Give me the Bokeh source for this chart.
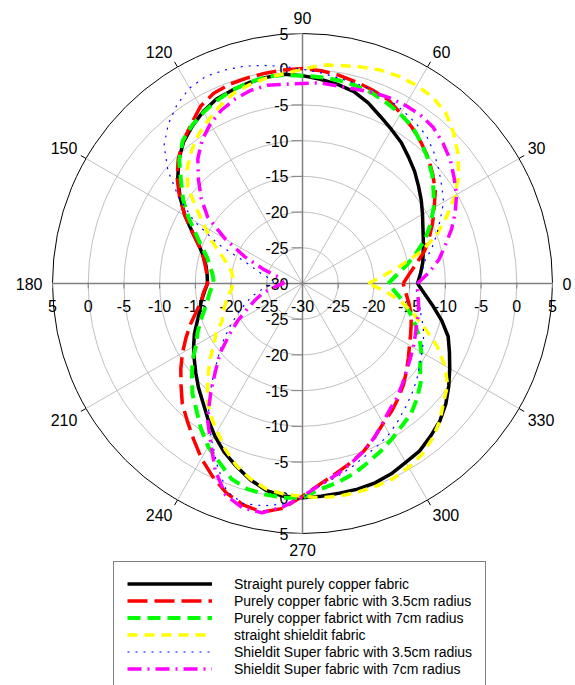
import math
from bokeh.plotting import figure
from bokeh.models import Range1d, Legend, LegendItem, ColumnDataSource
from bokeh.embed import file_html
from bokeh.resources import INLINE
from bokeh.core.properties import value

# ---------------- data (dB vs angle in degrees) ----------------
angles = list(range(0, 360, 5))

straight_copper = [-13.9, -13.4, -12.9, -12.5, -12.0, -11.4, -10.6, -9.7, -8.8, -7.8,
                   -6.9, -5.9, -5.1, -4.2, -3.1, -2.2, -1.7, -1.3, -0.9, -0.6,
                   -0.7, -0.9, -1.2, -1.5, -2.2, -3.1, -4.1, -5.5, -7.2, -9.1,
                   -11.0, -13.0, -14.6, -15.7, -16.3, -16.6, -16.7, -16.2, -15.6, -15.1,
                   -14.3, -13.3, -12.4, -11.5, -10.5, -9.4, -8.3, -6.9, -5.4, -4.0,
                   -2.8, -1.6, -0.6, -0.1, 0.0, -0.1, -0.2, -0.2, -0.3, -0.6,
                   -1.1, -1.4, -2.1, -2.8, -3.8, -5.0, -6.2, -7.3, -8.3, -9.8,
                   -11.4, -12.8]

copper_35 = [-15.9, -15.0, -13.8, -12.3, -11.1, -9.9, -8.7, -7.3, -6.2, -5.1,
             -4.2, -3.3, -2.5, -1.6, -1.2, -0.8, -0.4, -0.1, 0.1, 0.0,
             -0.1, -0.2, -0.3, -0.6, -1.4, -2.8, -4.0, -5.4, -7.1, -9.0,
             -11.0, -13.0, -14.6, -15.6, -16.2, -16.6, -16.7, -16.1, -15.6, -14.6,
             -13.3, -12.0, -10.6, -9.2, -7.8, -6.2, -4.9, -3.4, -1.7, -0.2,
             1.2, 2.1, 2.5, 1.6, -0.2, -1.8, -3.0, -4.0, -5.0, -6.2,
             -7.4, -8.2, -9.1, -10.0, -11.0, -11.9, -12.7, -13.3, -13.8, -14.3,
             -14.9, -15.5]

copper_7 = [-18.0, -16.8, -15.2, -13.5, -11.7, -10.2, -8.8, -7.6, -6.3, -5.2,
            -4.2, -3.2, -2.6, -2.1, -1.6, -1.3, -1.1, -1.0, -0.9, -0.7,
            -0.6, -0.9, -1.2, -1.7, -2.3, -3.0, -3.9, -5.6, -7.8, -9.6,
            -11.6, -13.5, -15.0, -16.2, -16.9, -17.4, -17.6, -17.0, -16.5, -15.8,
            -14.8, -13.8, -12.8, -11.2, -9.8, -8.2, -6.9, -5.2, -3.6, -2.4,
            -0.9, -0.2, 0.0, 0.1, 0.0, -1.1, -1.7, -2.4, -3.3, -4.1,
            -4.9, -5.7, -6.3, -7.3, -8.4, -9.9, -10.8, -11.9, -13.2, -14.5,
            -15.7, -17.0]

straight_shieldit = [-20.8, -18.8, -16.2, -12.8, -10.0, -7.7, -5.3, -3.3, -1.6, -0.1,
                     1.2, 1.8, 2.0, 2.0, 1.8, 1.4, 1.0, 0.7, 0.0, -0.5,
                     -0.8, -1.2, -1.7, -2.6, -3.6, -4.6, -5.8, -7.2, -9.0, -12.0,
                     -14.2, -16.0, -17.8, -19.0, -19.9, -20.2, -20.3, -20.0, -19.4, -18.8,
                     -18.1, -17.6, -16.0, -14.8, -13.0, -11.3, -9.2, -7.5, -6.1, -4.4,
                     -2.9, -1.7, -0.8, -0.4, -0.2, 0.1, 0.2, 0.2, 0.2, 0.1,
                     -0.3, -0.8, -1.7, -2.8, -4.2, -5.2, -7.0, -9.2, -11.8, -14.0,
                     -16.1, -18.5]

shieldit_35 = [-14.0, -13.2, -12.7, -11.3, -10.0, -8.7, -7.2, -6.2, -5.1, -4.0,
               -3.0, -2.5, -2.0, -1.5, -1.2, -1.0, -0.8, -0.4, 0.0, 0.5,
               1.0, 1.5, 1.8, 2.0, 1.6, 0.6, -0.8, -2.6, -5.4, -8.8,
               -12.4, -17.0, -21.8, -23.6, -25.0, -25.8, -26.0, -25.0, -23.8, -22.5,
               -21.4, -20.0, -18.4, -16.6, -14.8, -12.5, -9.8, -7.0, -4.6, -1.8,
               1.0, 1.9, 1.6, 1.0, 0.0, -1.6, -2.5, -3.4, -4.3, -5.0,
               -5.7, -6.6, -7.5, -8.3, -9.1, -10.0, -10.7, -11.3, -12.0, -12.8,
               -13.5, -14.0]

shieldit_7 = [-13.9, -12.2, -10.6, -9.3, -7.8, -6.4, -5.1, -4.1, -3.0, -2.2,
              -1.5, -1.2, -1.2, -1.3, -1.5, -1.8, -1.9, -1.8, -2.0, -2.0,
              -1.8, -2.0, -2.5, -3.2, -4.2, -5.5, -7.2, -9.4, -11.5, -13.8,
              -17.5, -21.0, -24.2, -26.5, -27.0, -27.2, -27.3, -26.5, -25.3, -24.0,
              -22.8, -21.4, -19.5, -17.5, -15.0, -12.8, -10.0, -6.8, -4.3, -1.1,
              1.5, 2.5, 2.6, 1.4, -0.2, -1.7, -2.8, -3.9, -5.0, -6.2,
              -7.5, -8.6, -9.3, -10.2, -11.0, -11.6, -12.1, -12.6, -13.0, -13.2,
              -13.5, -13.8]

series_labels = ["Straight purely copper fabric",
                 "Purely copper fabric with 3.5cm radius",
                 "Purely copper fabrict with 7cm radius",
                 "straight shieldit fabric",
                 "Shieldit Super fabric with 3.5cm radius",
                 "Shieldit Super fabric with 7cm radius"]

radial_ticks = [-30, -25, -20, -15, -10, -5, 0, 5]
angle_ticks = [0, 30, 60, 90, 120, 150, 180, 210, 240, 270, 300, 330]

# ---------------- geometry ----------------
W, H = 575, 685
CX, CY = 302, 283          # pole position in figure pixels (from top-left)
R = 250.0                  # pixel radius of the outer (5 dB) ring
R_MIN, R_MAX = radial_ticks[0], radial_ticks[-1]
K = R / (R_MAX - R_MIN)
FONT = "Liberation Sans"
FS = "16px"


def rad(db):
    return max(db - R_MIN, 0.0) * K


def to_xy(ang_list, db_list):
    xs, ys = [], []
    for a, d in zip(ang_list + [ang_list[0]], db_list + [db_list[0]]):
        r = rad(d)
        xs.append(r * math.cos(math.radians(a)))
        ys.append(r * math.sin(math.radians(a)))
    return xs, ys


p = figure(width=W, height=H, output_backend="svg", toolbar_location=None,
           x_range=Range1d(-CX, W - CX), y_range=Range1d(-(H - CY), CY),
           x_axis_location=None, y_axis_location=None,
           min_border=0, min_border_left=0, min_border_right=0,
           min_border_top=0, min_border_bottom=0)
p.outline_line_color = None
p.xgrid.visible = False
p.ygrid.visible = False
p.background_fill_color = "white"
p.border_fill_color = "white"

# grid rings
ring_r = [rad(v) for v in radial_ticks[1:-1]]
p.circle(x=[0] * len(ring_r), y=[0] * len(ring_r), radius=ring_r,
         fill_color=None, line_color="#c0c0c0", line_width=1)
p.circle(x=[0], y=[0], radius=[rad(R_MAX)], fill_color=None,
         line_color="black", line_width=1)

# spokes
minor = [a for a in angle_ticks if a % 90 != 0]
p.segment(x0=[0] * len(minor), y0=[0] * len(minor),
          x1=[R * math.cos(math.radians(a)) for a in minor],
          y1=[R * math.sin(math.radians(a)) for a in minor],
          line_color="#c0c0c0", line_width=1)
major = [a for a in angle_ticks if a % 90 == 0]
p.segment(x0=[0] * len(major), y0=[0] * len(major),
          x1=[R * math.cos(math.radians(a)) for a in major],
          y1=[R * math.sin(math.radians(a)) for a in major],
          line_color="#808080", line_width=1.5)

# outer angle ticks
p.segment(x0=[R * math.cos(math.radians(a)) for a in minor],
          y0=[R * math.sin(math.radians(a)) for a in minor],
          x1=[(R + 6) * math.cos(math.radians(a)) for a in minor],
          y1=[(R + 6) * math.sin(math.radians(a)) for a in minor],
          line_color="black", line_width=1)

# radial axis ticks: vertical axis (ticks to the left), horizontal axis (ticks down)
vt_y = [rad(v) for v in radial_ticks] + [-rad(v) for v in radial_ticks[1:]]
p.segment(x0=[-11] * len(vt_y), y0=vt_y, x1=[0] * len(vt_y), y1=vt_y,
          line_color="#808080", line_width=1)
ht_x = [rad(v) for v in radial_ticks[1:]] + [-rad(v) for v in radial_ticks[1:]]
p.segment(x0=ht_x, y0=[1] * len(ht_x), x1=ht_x, y1=[-5] * len(ht_x),
          line_color="#808080", line_width=1)

# radial tick labels
lab_v = [str(v) for v in radial_ticks] + [str(v) for v in radial_ticks[1:]]
p.text(x=[-14] * len(vt_y), y=vt_y, text=lab_v, text_align="right",
       text_baseline="middle", text_font=value(FONT), text_font_size=FS,
       text_color="black")
hl_x = [rad(v) for v in radial_ticks] + [-rad(v) for v in radial_ticks[1:]]
lab_h = [str(v) for v in radial_ticks] + [str(v) for v in radial_ticks[1:]]
p.text(x=hl_x, y=[-22] * len(hl_x), text=lab_h, text_align="center",
       text_baseline="middle", text_font=value(FONT), text_font_size=FS,
       text_color="black")

# angle labels
RL = 260
for a in angle_ticks:
    c, s = math.cos(math.radians(a)), math.sin(math.radians(a))
    align = "left" if c > 0.1 else ("right" if c < -0.1 else "center")
    base = "bottom" if s > 0.1 else ("top" if s < -0.1 else "middle")
    p.text(x=[RL * c], y=[RL * s], text=[str(a)], text_align=align,
           text_baseline=base, text_font=value(FONT), text_font_size=FS,
           text_color="black")

# data curves
styles = [
    dict(line_color="#000000", line_width=3.5, line_dash="solid"),
    dict(line_color="#ff0000", line_width=3.5, line_dash="20 7"),
    dict(line_color="#00ff00", line_width=4, line_dash="13 7"),
    dict(line_color="#ffff00", line_width=3.5, line_dash="10 7"),
    dict(line_color="#0000ff", line_width=1.2, line_dash="2 6"),
    dict(line_color="#ff00ff", line_width=3.5, line_dash="14 6 2 6"),
]
all_series = [straight_copper, copper_35, copper_7, straight_shieldit, shieldit_35, shieldit_7]
items = []
for lab, vals, st in zip(series_labels, all_series, styles):
    xs, ys = to_xy(angles, vals)
    src = ColumnDataSource(dict(x=xs, y=ys))
    r = p.line("x", "y", source=src, line_cap="butt", line_join="round", **st)
    items.append(LegendItem(label=lab, renderers=[r]))

legend = Legend(items=items, location=(113, -6), glyph_width=85, glyph_height=17,
                label_height=17, spacing=0, padding=13, label_standoff=22, margin=0,
                label_text_font=FONT, label_text_font_size="14px",
                label_text_color="black", border_line_color="black",
                border_line_width=1, background_fill_color="white",
                background_fill_alpha=1.0)
p.add_layout(legend)

open("out.html", "w").write(file_html(p, INLINE))
